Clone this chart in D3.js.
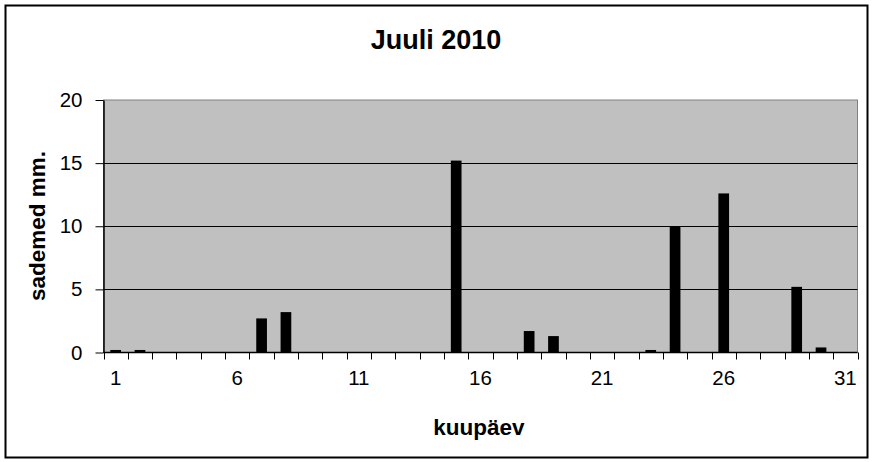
<!DOCTYPE html>
<html><head><meta charset="utf-8">
<script src="https://cdn.jsdelivr.net/npm/d3@7"></script>
<style>body{margin:0;background:#fff}svg{display:block;font-family:"Liberation Sans",Arial,sans-serif}</style>
</head><body><svg id="c" width="873" height="462"></svg>
<script>
const days = d3.range(1, 32);
const rain = [0.2,0.2,0,0,0,0,2.7,3.2,0,0,0,0,0,0,15.2,0,0,1.7,1.3,0,0,0,0.2,10.0,0,12.6,0,0,5.2,0.4,0];
const yTicks = [0,5,10,15,20];
const xTickLabels = [1,6,11,16,21,26,31];
const title = "Juuli 2010";
const xTitle = "kuupäev";
const yTitle = "sademed mm.";

const svg = d3.select("#c");
const L = 103.5, R = 857.5, T = 100, B = 352.5;

svg.append("rect").attr("x",5.5).attr("y",5.5).attr("width",862).attr("height",452)
  .attr("fill","#fff").attr("stroke","#000").attr("stroke-width",2);

const x = d3.scaleBand().domain(days).range([L,R]).paddingInner(0.56).paddingOuter(0.28);
const xb = d3.scaleBand().domain(days).range([L,R]);
const y = d3.scaleLinear().domain([0,20]).range([B,T]);

svg.append("rect").attr("x",L).attr("y",T).attr("width",R-L).attr("height",B-T)
  .attr("fill","#c0c0c0").attr("stroke","#808080").attr("stroke-width",1);

svg.append("g").selectAll("line").data(yTicks.filter(d=>d>0&&d<20)).join("line")
  .attr("x1",L).attr("x2",R).attr("y1",d=>Math.round(y(d))+0.5).attr("y2",d=>Math.round(y(d))+0.5)
  .attr("stroke","#000").attr("stroke-width",1.2);

svg.append("g").selectAll("rect").data(days).join("rect")
  .attr("x",d=>x(d)).attr("width",x.bandwidth())
  .attr("y",(d,i)=>y(rain[i])).attr("height",(d,i)=>B-y(rain[i]))
  .attr("fill","#000");

// y axis
const ya = svg.append("g").attr("transform",`translate(${L},0)`)
  .call(d3.axisLeft(y).tickValues(yTicks).tickSize(8).tickPadding(13).tickSizeOuter(0));
ya.select(".domain").attr("stroke","#000").attr("stroke-width",1.5);
ya.selectAll("line").attr("stroke","#000");
ya.selectAll("text").attr("font-size",20.5).attr("fill","#000").attr("font-family","Liberation Sans, Arial");

// x axis
const xa = svg.append("g").attr("transform",`translate(0,${B})`);
xa.append("line").attr("x1",L).attr("x2",R).attr("y1",0).attr("y2",0).attr("stroke","#000").attr("stroke-width",1.5);
const tickPos = days.map(d=>xb(d)).concat([R]);
xa.selectAll("line.t").data(tickPos).join("line").attr("class","t")
  .attr("x1",d=>Math.round(d)+0.5).attr("x2",d=>Math.round(d)+0.5).attr("y1",0).attr("y2",7).attr("stroke","#000");
xa.selectAll("text").data(xTickLabels).join("text")
  .attr("x",d=>xb(d)+xb.bandwidth()/2).attr("y",32).attr("text-anchor","middle")
  .attr("font-size",20.5).text(d=>d);

svg.append("text").attr("x",436).attr("y",49).attr("text-anchor","middle")
  .attr("font-size",27).attr("font-weight","bold").text(title);
svg.append("text").attr("x",479).attr("y",435).attr("text-anchor","middle")
  .attr("font-size",22.5).attr("font-weight","bold").text(xTitle);
svg.append("text").attr("transform","translate(45,226) rotate(-90)").attr("text-anchor","middle")
  .attr("font-size",22.5).attr("font-weight","bold").text(yTitle);
</script></body></html>
